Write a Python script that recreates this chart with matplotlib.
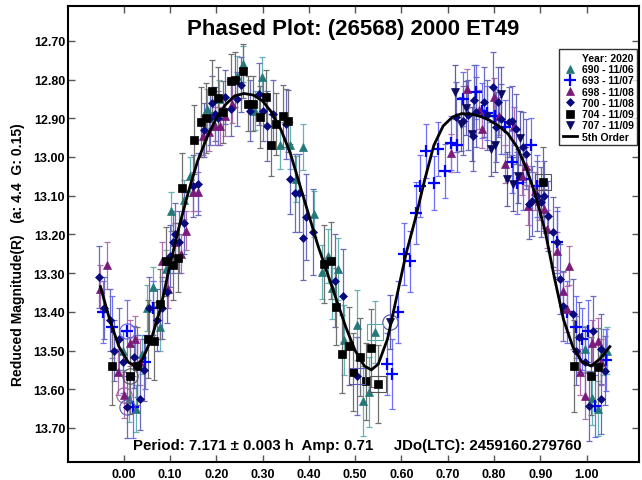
import numpy as np
import matplotlib
matplotlib.use("Agg")
import matplotlib.pyplot as plt
from matplotlib.lines import Line2D

plt.rcParams['font.family'] = ['Liberation Sans', 'DejaVu Sans']
plt.rcParams['font.weight'] = 'bold'

# (phase, reduced mag, error)
s690 = [(-0.002, 13.50, .05), (0.011, 13.625, .06), (0.026, 13.65, .06), (0.039, 13.51, .05),
        (0.05, 13.39, .06), (0.063, 13.335, .05), (0.078, 13.44, .06), (0.091, 13.29, .05),
        (0.103, 13.14, .05), (0.13, 13.11, .05), (0.143, 13.05, .05), (0.181, 12.875, .05),
        (0.205, 12.85, .05), (0.244, 12.79, .05), (0.257, 12.76, .047), (0.283, 12.88, .05),
        (0.298, 12.793, .05), (0.337, 12.97, .06), (0.36, 12.97, .06), (0.373, 13.057, .06),
        (0.387, 12.974, .06), (0.412, 13.147, .06), (0.428, 13.297, .07), (0.441, 13.256, .07),
        (0.464, 13.29, .08), (0.451, 13.338, .08), (0.477, 13.473, .09), (0.503, 13.434, .09),
        (0.529, 13.607, .09), (0.516, 13.63, .09), (0.542, 13.452, .08), (0.996, 13.496, .06),
        (1.011, 13.623, .07), (1.024, 13.65, .07), (1.035, 13.504, .06), (1.043, 13.50, .06)]
s693 = [(-0.045, 13.40, .08), (-0.024, 13.44, .08), (0.008, 13.45, .08), (0.02, 13.645, .08),
        (0.047, 13.53, .07), (0.063, 13.39, .07), (0.568, 13.535, .08), (0.579, 13.56, .09),
        (0.592, 13.40, .08), (0.605, 13.25, .08), (0.618, 13.27, .08), (0.631, 13.144, .08),
        (0.641, 13.075, .08), (0.67, 13.067, .07), (0.654, 12.984, .07), (0.68, 12.98, .07),
        (0.695, 13.036, .07), (0.706, 12.964, .07), (0.719, 12.968, .07), (0.734, 12.85, .07),
        (0.76, 12.832, .07), (0.773, 12.88, .07), (0.784, 12.886, .07), (0.803, 12.894, .07),
        (0.823, 12.922, .07), (0.838, 13.013, .08), (0.849, 13.067, .08), (0.879, 12.969, .07),
        (0.862, 13.057, .08), (0.892, 13.075, .08), (0.935, 13.22, .08), (0.957, 13.40, .08),
        (0.976, 13.44, .08), (0.989, 13.47, .08), (1.002, 13.45, .08), (1.017, 13.643, .08),
        (1.041, 13.524, .08)]
s698 = [(-0.035, 13.28, .06), (-0.05, 13.34, .06), (-0.012, 13.555, .06), (0.013, 13.48, .06),
        (0.0, 13.615, .06), (0.024, 13.47, .06), (0.035, 13.53, .06), (0.084, 13.27, .05),
        (0.095, 13.34, .05), (0.11, 13.22, .05), (0.123, 13.25, .05), (0.134, 13.19, .05),
        (0.15, 13.09, .05), (0.16, 13.09, .05), (0.171, 12.945, .05), (0.184, 12.935, .05),
        (0.197, 12.92, .05), (0.209, 12.92, .05), (0.22, 12.895, .05), (0.235, 12.862, .05),
        (0.706, 12.99, .05), (0.741, 12.824, .05), (0.767, 12.878, .05), (0.775, 12.927, .05),
        (0.799, 12.845, .05), (0.81, 12.894, .05), (0.844, 12.92, .05), (0.823, 13.018, .05),
        (0.86, 13.049, .05), (0.868, 13.023, .05), (0.873, 13.126, .05), (0.888, 13.088, .05),
        (0.898, 13.113, .05), (0.907, 13.134, .05), (0.914, 13.186, .05), (0.937, 13.243, .05),
        (0.961, 13.281, .05), (0.948, 13.346, .05), (0.957, 13.393, .06), (0.985, 13.555, .06),
        (1.011, 13.48, .06), (1.024, 13.475, .06), (0.996, 13.617, .06), (1.032, 13.53, .06)]
s700 = [(-0.052, 13.31, .08), (-0.043, 13.39, .08), (-0.03, 13.42, .08), (-0.02, 13.50, .08),
        (-0.01, 13.47, .08), (-0.002, 13.53, .08), (0.008, 13.645, .08), (0.022, 13.516, .08),
        (0.028, 13.54, .08), (0.035, 13.625, .08), (0.045, 13.55, .08), (0.054, 13.39, .08),
        (0.073, 13.42, .08), (0.084, 13.39, .08), (0.093, 13.35, .08), (0.10, 13.255, .08),
        (0.106, 13.22, .08), (0.119, 13.22, .08), (0.11, 13.20, .08), (0.13, 13.17, .08),
        (0.15, 13.075, .08), (0.16, 13.07, .08), (0.173, 12.93, .07), (0.186, 12.9, .07),
        (0.192, 12.86, .07), (0.197, 12.89, .07), (0.203, 12.90, .07), (0.22, 12.845, .07),
        (0.233, 12.875, .07), (0.244, 12.85, .07), (0.253, 12.813, .07), (0.272, 12.88, .08),
        (0.292, 12.837, .08), (0.30, 12.88, .08), (0.309, 12.92, .09), (0.322, 12.89, .09),
        (0.35, 12.915, .09), (0.359, 13.057, .09), (0.37, 13.093, .1), (0.378, 13.093, .1),
        (0.395, 13.155, .11), (0.387, 13.209, .11), (0.408, 13.194, .11), (0.456, 13.32, .12),
        (0.473, 13.359, .12), (0.503, 13.566, .1), (0.717, 12.896, .09), (0.732, 12.906, .09),
        (0.743, 12.891, .09), (0.754, 12.945, .09), (0.756, 12.852, .09), (0.762, 12.883, .09),
        (0.778, 12.858, .09), (0.784, 12.891, .09), (0.797, 12.819, .09), (0.805, 12.922, .09),
        (0.808, 12.858, .09), (0.816, 12.902, .09), (0.832, 12.909, .09), (0.838, 12.906, .09),
        (0.847, 12.927, .09), (0.862, 12.974, .09), (0.87, 12.992, .09), (0.875, 13.121, .09),
        (0.881, 13.113, .09), (0.892, 13.10, .09), (0.907, 13.10, .09), (0.901, 13.116, .09),
        (0.916, 13.152, .09), (0.927, 13.194, .09), (0.937, 13.22, .09), (0.942, 13.315, .09),
        (0.948, 13.385, .09), (0.97, 13.405, .09), (0.983, 13.465, .09), (0.976, 13.50, .09),
        (0.996, 13.53, .09), (1.013, 13.45, .09), (1.006, 13.643, .09), (1.03, 13.625, .09),
        (1.039, 13.552, .09), (1.032, 13.496, .09)]
s704 = [(-0.026, 13.54, .1), (0.013, 13.565, .1), (0.028, 13.54, .1), (0.052, 13.47, .1),
        (0.065, 13.475, .1), (0.078, 13.38, .09), (0.091, 13.27, .09), (0.106, 13.28, .09),
        (0.117, 13.26, .09), (0.127, 13.08, .09), (0.153, 12.955, .09), (0.168, 12.91, .09),
        (0.179, 12.9, .09), (0.192, 12.83, .08), (0.203, 12.848, .08), (0.214, 12.885, .08),
        (0.231, 12.805, .07), (0.24, 12.80, .07), (0.257, 12.777, .07), (0.268, 12.862, .07),
        (0.279, 12.862, .07), (0.294, 12.896, .08), (0.307, 12.845, .07), (0.318, 12.97, .08),
        (0.33, 12.915, .08), (0.344, 12.894, .08), (0.356, 12.906, .08), (0.432, 13.276, .1),
        (0.447, 13.268, .1), (0.458, 13.387, .1), (0.486, 13.488, .1), (0.471, 13.509, .1),
        (0.51, 13.517, .1), (0.495, 13.555, .1), (0.523, 13.58, .1), (0.534, 13.493, .1),
        (0.549, 13.586, .1), (0.905, 13.065, .09), (0.972, 13.54, .12), (1.009, 13.566, .1),
        (1.024, 13.543, .1)]
s707 = [(0.575, 13.426, .07), (0.715, 12.832, .07), (0.728, 12.914, .07), (0.752, 12.94, .07),
        (0.739, 12.873, .07), (0.793, 12.98, .07), (0.803, 12.968, .07), (0.816, 12.837, .07),
        (0.855, 12.951, .07), (0.829, 13.057, .07), (0.84, 13.07, .07), (0.851, 13.049, .07)]

series = [s690, s693, s698, s700, s704, s707]
labels = ['690 - 11/06', '693 - 11/07', '698 - 11/08', '700 - 11/08', '704 - 11/09', '707 - 11/09']
markers = ['^', '+', '^', 'D', 's', 'v']
colors = ['#237878', '#0000FF', '#7A1A7A', '#0A0A80', '#000000', '#0A0A60']
ecolors = ['#66B3B3', '#7070FF', '#B070B0', '#6A6AC0', '#707070', '#6060A8']
msizes = [6, 8, 6, 4, 5.5, 6]

fit_phase = [-0.05, -0.03, -0.01, 0.01, 0.025, 0.04, 0.06, 0.08, 0.10, 0.12, 0.14, 0.16, 0.18,
             0.20, 0.22, 0.24, 0.26, 0.28, 0.30, 0.32, 0.34, 0.36, 0.38, 0.40, 0.42, 0.44,
             0.46, 0.48, 0.50, 0.52, 0.535, 0.55, 0.57, 0.59, 0.61, 0.63, 0.65, 0.67, 0.69,
             0.71, 0.73, 0.75, 0.77, 0.79, 0.81, 0.83, 0.85, 0.87, 0.89, 0.91, 0.93, 0.95,
             0.97, 0.99, 1.01, 1.03, 1.05]
fit_mag = [13.335, 13.42, 13.49, 13.53, 13.54, 13.525, 13.47, 13.39, 13.28, 13.18, 13.09,
           13.01, 12.95, 12.90, 12.865, 12.842, 12.836, 12.84, 12.855, 12.885, 12.93, 12.99,
           13.07, 13.15, 13.23, 13.30, 13.37, 13.44, 13.50, 13.54, 13.55, 13.535, 13.47,
           13.36, 13.25, 13.16, 13.06, 12.97, 12.92, 12.897, 12.888, 12.889, 12.895, 12.905,
           12.92, 12.94, 12.975, 13.03, 13.10, 13.19, 13.31, 13.42, 13.49, 13.53, 13.54,
           13.52, 13.49]

# points flagged with an outline in the reference: phase, mag, shape, colour
flag_phase = [0.008, 0.0, 0.008, 0.013, 0.575, 0.503, 0.542, 0.549, 0.905]
flag_mag = [13.45, 13.615, 13.645, 13.565, 13.426, 13.566, 13.452, 13.586, 13.065]
flag_shape = ['o', 'o', 'o', 'o', 'o', 's', 's', 's', 's']
flag_color = ['#5A5AFF', '#A455A4', '#5A5AB4', '#555555', '#5050A0', '#5A5AB4', '#55AAAA',
              '#555555', '#555555']

title = 'Phased Plot: (26568) 2000 ET49'
footer = 'Period: 7.171 \u00b1 0.003 h  Amp: 0.71     JDo(LTC): 2459160.279760'
ylabel = 'Reduced Magnitude(R)   (a: 4.4  G: 0.15)'

fig = plt.figure(figsize=(6.42, 4.81), dpi=100)
ax = fig.add_axes([68 / 642, 18 / 481, 571 / 642, 456 / 481])

handles = [Line2D([], [], ls='none', marker='none')]
hlabels = ['Year: 2020']
for s, lab, m, c, ec, ms in zip(series, labels, markers, colors, ecolors, msizes):
    d = np.array(s)
    ax.errorbar(d[:, 0], d[:, 1], yerr=d[:, 2], fmt='none', ecolor=ec, elinewidth=0.9,
                capsize=2, capthick=0.9, zorder=2)
    mew = 1.6 if m == '+' else 0.5
    ax.plot(d[:, 0], d[:, 1], ls='none', marker=m, ms=ms, color=c, mec=c, mew=mew, zorder=3)
    handles.append(Line2D([], [], ls='none', marker=m, ms=ms, color=c, mew=mew))
    hlabels.append(lab)

for x, y, sh, c in zip(flag_phase, flag_mag, flag_shape, flag_color):
    ax.plot(x, y, ls='none', marker=sh, ms=11, mfc='none', mec=c, mew=0.8, zorder=4)

ax.plot(fit_phase, fit_mag, color='black', lw=2, zorder=5)
handles.append(Line2D([], [], color='black', lw=2))
hlabels.append('5th Order')

ax.set_xlim(-0.12, 1.113)
ax.set_ylim(13.788, 12.61)
ax.set_xticks(np.arange(0, 1.001, 0.1))
ax.set_yticks(np.arange(12.7, 13.701, 0.1))
ax.xaxis.set_major_formatter(matplotlib.ticker.FormatStrFormatter('%.2f'))
ax.yaxis.set_major_formatter(matplotlib.ticker.FormatStrFormatter('%.2f'))
ax.tick_params(direction='in', length=5, width=1, top=True, right=True, labelsize=9,
               color='#555555')
ax.tick_params(axis='y', pad=2)
ax.tick_params(axis='x', pad=4)
for sp in ax.spines.values():
    sp.set_linewidth(1.5)

ax.text(0.5, 0.95, title, transform=ax.transAxes, ha='center', va='center',
        fontsize=16, fontweight='bold')
ax.text(0.506, 0.037, footer, transform=ax.transAxes, ha='center', va='center',
        fontsize=10.8, fontweight='bold')
fig.text(18 / 642, 1 - 255 / 481, ylabel, rotation=90, ha='center', va='center',
         fontsize=10, fontweight='bold')

leg = ax.legend(handles, hlabels, loc='upper right', bbox_to_anchor=(0.997, 0.905),
                fontsize=7.5, frameon=True, fancybox=False, edgecolor='black',
                handlelength=1.3, handletextpad=0.5, labelspacing=0.12, borderpad=0.35,
                borderaxespad=0)
leg.get_frame().set_linewidth(1)
for t in leg.get_texts():
    t.set_fontweight('bold')

fig.savefig('out.png', dpi=100)
